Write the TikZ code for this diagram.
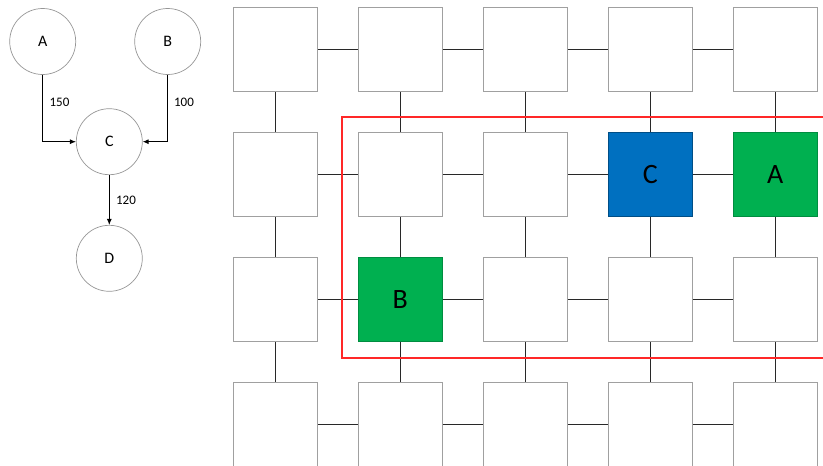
\documentclass[tikz,border=0pt]{standalone}
\usepackage{fontspec}
\setmainfont{Carlito}
\usetikzlibrary{arrows.meta}
\definecolor{circgray}{RGB}{150,150,150}
\definecolor{cellgray}{RGB}{160,160,160}
\definecolor{linkgray}{RGB}{40,40,40}
\definecolor{cellblue}{RGB}{0,112,192}
\definecolor{cellgreen}{RGB}{0,176,80}
\definecolor{framered}{RGB}{255,40,40}
\begin{document}
\begin{tikzpicture}[x=1pt,y=-1pt,
  circ/.style={circle, draw=circgray, line width=0.7pt, minimum size=66pt, inner sep=0pt, font=\fontsize{16}{16}\selectfont},
  cell/.style={rectangle, draw=cellgray, line width=1.2pt, fill=white, minimum size=84pt, inner sep=0pt, font=\fontsize{28}{28}\selectfont},
  link/.style={draw=linkgray, line width=1.3pt},
  flow/.style={draw=black, line width=0.9pt, -{Latex[length=6pt,width=5pt]}},
  wlabel/.style={font=\fontsize{13}{13}\selectfont, inner sep=1pt},
  c41/.style={fill=cellgreen, draw=cellgreen!80!black},
  c31/.style={fill=cellblue, draw=cellblue!70!black},
  c12/.style={fill=cellgreen, draw=cellgreen!80!black}
]
\useasboundingbox (0,0) rectangle (823,466);
\clip (0,0) rectangle (823,466);
\expandafter\def\csname t41\endcsname{A}
\expandafter\def\csname t31\endcsname{C}
\expandafter\def\csname t12\endcsname{B}

% left graph
\node[circ] (A) at (42.7,41.5) {A};
\node[circ] (B) at (167.7,41.5) {B};
\node[circ] (C) at (109.3,141.7) {C};
\node[circ] (D) at (109.3,258.3) {D};
\draw[flow] (A.south) |- (C.west);
\draw[flow] (B.south) |- (C.east);
\draw[flow] (C.south) -- (D.north);
\node[wlabel] (l150) at (59.5,102) {150};
\node[wlabel] (l100) at (184,102) {100};
\node[wlabel] (l120) at (126,200) {120};

% grid
\foreach \i in {0,...,4}{\foreach \j in {0,...,3}{
  \node[cell, c\i\j/.try] (s\i\j) at ({275.3+125*\i},{49.8+125*\j}) {\csname t\i\j\endcsname};
}}
\foreach \i/\n in {0/1,1/2,2/3,3/4}{\foreach \j in {0,...,3}{
  \draw[link] (s\i\j.east) -- (s\n\j.west);
}}
\foreach \i in {0,...,4}{\foreach \j/\m in {0/1,1/2,2/3}{
  \draw[link] (s\i\j.south) -- (s\i\m.north);
}}

% red frame
\coordinate (r1) at (342.3,116.7);
\coordinate (r2) at (835,357.7);
\draw[framered, line width=1.9pt] (r1) rectangle (r2);
\end{tikzpicture}
\end{document}
